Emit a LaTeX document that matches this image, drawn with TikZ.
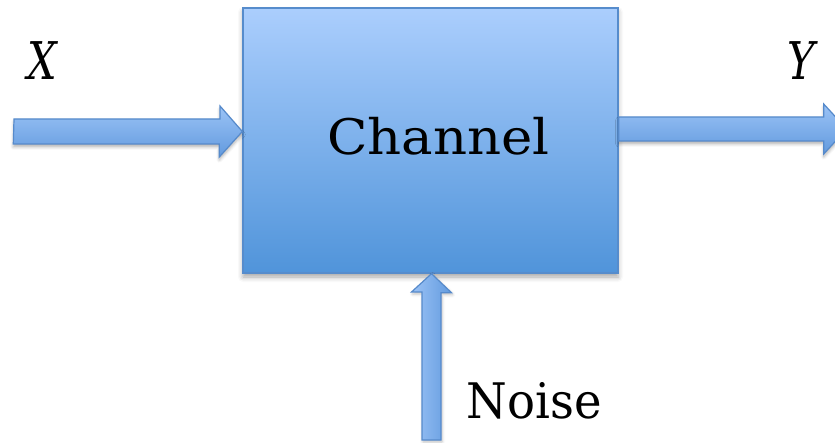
\documentclass[tikz,border=0pt]{standalone}
\usepackage{fontspec}
\setmainfont{DejaVu Serif}
\usetikzlibrary{calc,shadows.blur}
\definecolor{boxtop}{RGB}{171,206,253}
\definecolor{boxbot}{RGB}{80,148,218}
\definecolor{boxedge}{RGB}{86,140,204}
\definecolor{arrtop}{RGB}{155,195,246}
\definecolor{arrbot}{RGB}{98,154,222}
\definecolor{arredge}{RGB}{86,138,203}
\tikzset{
  chbox/.style={draw=boxedge, line width=1.4pt, top color=boxtop, bottom color=boxbot,
    minimum width=375pt, minimum height=265pt, inner sep=0pt,
    blur shadow={shadow xshift=0pt, shadow yshift=-4pt, shadow blur radius=5pt, shadow opacity=35}},
  fatarrow/.style={draw=arredge, line width=1.2pt, line join=miter,
    top color=arrtop, bottom color=arrbot,
    blur shadow={shadow xshift=0pt, shadow yshift=-3pt, shadow blur radius=3pt, shadow opacity=30}},
  fatarrowv/.style={draw=arredge, line width=1.2pt, line join=miter,
    left color=arrtop, right color=arrbot,
    blur shadow={shadow xshift=1pt, shadow yshift=-2pt, shadow blur radius=3pt, shadow opacity=25}},
  bigtext/.style={font=\fontsize{49}{56}\selectfont, inner sep=0pt, anchor=base},
  vartext/.style={font=\fontsize{52}{58}\selectfont\itshape, inner sep=0pt, anchor=base},
}
\begin{document}
\begin{tikzpicture}[x=1pt,y=-1pt]
\useasboundingbox (0,0) rectangle (835,443);
\clip (0,0) rectangle (835,443);
% channel box
\node[chbox] (channel) at (430.5,140.5) {};
\node[bigtext] (chlabel) at (438.5,155) {\scalebox{1.08}[1]{Channel}};
% free ends
\coordinate (xin) at (14,131.5);
\coordinate (yin) at (618,129);
\coordinate (nin) at (431.5,440);
% input arrow X
\path[fatarrow] (xin) ++(0,-12.5) -- ++(206,0) -- ++(0,-13)
  -- (channel.west |- xin) -- ++(-23,25.5) -- ++(0,-13) -- ++(-206,0) -- cycle;
% output arrow Y
\path[fatarrow] (channel.east |- yin) ++(0,-12) -- ++(205,0) -- ++(0,-13)
  -- ++(23,25) -- ++(-23,25) -- ++(0,-13) -- ++(-205,0) -- cycle;
% noise arrow
\path[fatarrowv] (channel.south -| nin) -- ++(20,19) -- ++(-10.5,0)
  -- ($(nin)+(9.5,0)$) -- ++(-19,0) -- ++(0,-148) -- ++(-10.5,0) -- cycle;
% labels
\node[bigtext] (noiselabel) at (534.5,418) {\scalebox{0.95}[1]{Noise}};
\node[vartext] (xlabel) at (42,80) {\scalebox{0.8}[1]{X}};
\node[vartext] (ylabel) at (801.5,80) {\scalebox{0.8}[1]{Y}};
\end{tikzpicture}
\end{document}
